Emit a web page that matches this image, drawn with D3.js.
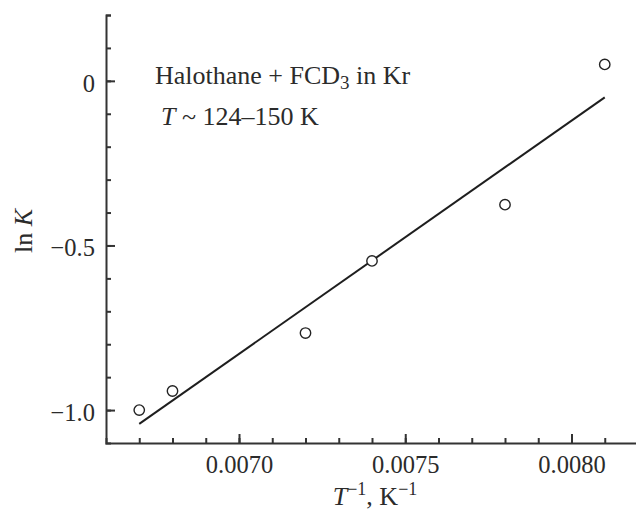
<!DOCTYPE html>
<html lang="en">
<head>
  <meta charset="UTF-8" />
  <title>ln K vs 1/T</title>
  <script src="https://d3js.org/d3.v7.min.js"></script>
  <style>
    body {
      margin: 0;
      background: #ffffff;
    }

    svg {
      font-family: 'Liberation Serif', 'Times New Roman', serif;
      font-size: 26px;
      fill: #2b2b2b;
    }

    .axis path, .axis line {
      stroke: #333;
      stroke-width: 2px;
    }

    .axis text {
      font-family: 'Liberation Serif', 'Times New Roman', serif;
      font-size: 24.5px;
      fill: #2b2b2b;
    }
  </style>
</head>
<body>
  <svg id="chart" width="636" height="511"></svg>

  <script>
    // data
    const invT = [0.0067, 0.0068, 0.0072, 0.0074, 0.0078, 0.0081];
    const lnK = [-1.00, -0.942, -0.766, -0.547, -0.376, 0.050];

    // fitted straight line, two ends
    const fitX = [0.0067, 0.0081];
    const fitY = [-1.042, -0.050];

    const xMajor = [0.0070, 0.0075, 0.0080];
    const yMajor = [-1.0, -0.5, 0];

    const svg = d3.select("#chart");

    const x = d3.scaleLinear().domain([0.0066, 0.0082]).range([106, 638]);
    const y = d3.scaleLinear().domain([-1.1, 0.2]).range([443, 15]);

    const xMinor = d3.range(67, 82).map(d => d / 10000);
    const yMinor = d3.range(-10, 3).map(d => d / 10);

    // minor ticks
    svg.append("g")
        .attr("class", "axis")
        .attr("transform", "translate(0,443)")
        .call(d3.axisBottom(x).tickValues(xMinor).tickSize(-5).tickFormat(""));

    svg.append("g")
        .attr("class", "axis")
        .attr("transform", "translate(106,0)")
        .call(d3.axisLeft(y).tickValues(yMinor).tickSize(-5).tickFormat(""));

    // major ticks with labels
    svg.append("g")
        .attr("class", "axis")
        .attr("transform", "translate(0,443)")
        .call(d3.axisBottom(x).tickValues(xMajor).tickSizeInner(-9).tickSizeOuter(0)
          .tickPadding(13).tickFormat(d3.format(".4f")))
        .call(g => g.select(".domain").remove());

    svg.append("g")
        .attr("class", "axis")
        .attr("transform", "translate(106,0)")
        .call(d3.axisLeft(y).tickValues(yMajor).tickSizeInner(-9).tickSizeOuter(0)
          .tickPadding(11).tickFormat(d => d === 0 ? "0" : d3.format(".1f")(d)))
        .call(g => g.select(".domain").remove())
        .call(g => g.selectAll("text").attr("dy", "0.42em"));

    // fit line
    svg.append("path")
        .datum(d3.zip(fitX, fitY))
        .attr("fill", "none")
        .attr("stroke", "#1e1e1e")
        .attr("stroke-width", 2)
        .attr("d", d3.line().x(d => x(d[0])).y(d => y(d[1])));

    // points
    svg.append("g")
      .selectAll("circle")
      .data(d3.zip(invT, lnK))
      .join("circle")
        .attr("cx", d => x(d[0]))
        .attr("cy", d => y(d[1]))
        .attr("r", 5.2)
        .attr("fill", "#fff")
        .attr("stroke", "#222")
        .attr("stroke-width", 1.4);

    // annotation
    const t1 = svg.append("text").attr("x", 155).attr("y", 84);
    t1.append("tspan").text("Halothane + FCD");
    t1.append("tspan").attr("dy", 5).style("font-size", "19px").text("3");
    t1.append("tspan").attr("dy", -5).text(" in Kr");

    const t2 = svg.append("text").attr("x", 161).attr("y", 125);
    t2.append("tspan").style("font-style", "italic").text("T");
    t2.append("tspan").text(" ~ 124\u2013150 K");

    // axis titles
    const xl = svg.append("text")
        .attr("x", 375).attr("y", 505)
        .attr("text-anchor", "middle");
    xl.append("tspan").style("font-style", "italic").text("T");
    xl.append("tspan").attr("dy", -10).style("font-size", "18px").text("\u22121");
    xl.append("tspan").attr("dy", 10).text(", K");
    xl.append("tspan").attr("dy", -10).style("font-size", "18px").text("\u22121");

    const yl = svg.append("text")
        .attr("transform", "translate(32,231) rotate(-90)")
        .attr("text-anchor", "middle");
    yl.append("tspan").text("ln ");
    yl.append("tspan").style("font-style", "italic").text("K");
  </script>
</body>
</html>
